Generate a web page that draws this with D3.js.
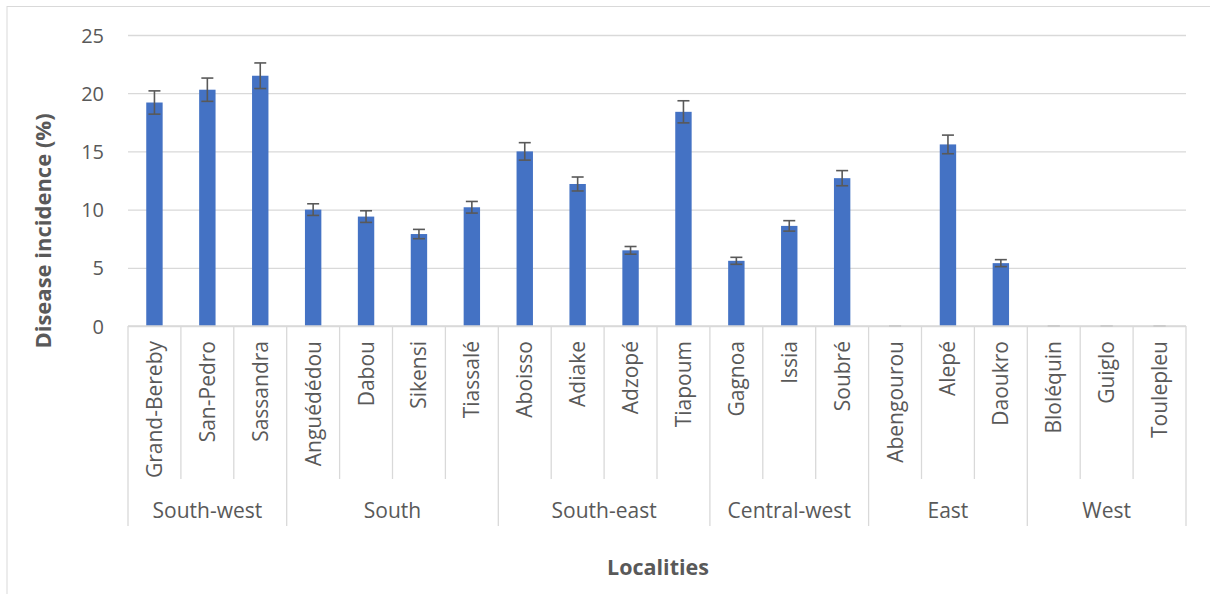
<!DOCTYPE html>
<html>
<head>
<meta charset="utf-8">
<script src="https://cdn.jsdelivr.net/npm/d3@7"></script>
<style>
  html, body { margin: 0; padding: 0; background: #fff; }
  svg { display: block; }
  text { font-family: "Open Sans", "Noto Sans", sans-serif; fill: #595959; }
</style>
</head>
<body>
<svg id="chart" width="1210" height="594"></svg>
<script>
const localities = ["Grand-Bereby","San-Pedro","Sassandra","Anguédédou","Dabou","Sikensi","Tiassalé","Aboisso","Adiake","Adzopé","Tiapoum","Gagnoa","Issia","Soubré","Abengourou","Alepé","Daoukro","Bloléquin","Guiglo","Toulepleu"];
const regions = ["South-west","South-west","South-west","South","South","South","South","South-east","South-east","South-east","South-east","Central-west","Central-west","Central-west","East","East","East","West","West","West"];
const incidence = [19.2, 20.3, 21.5, 10.0, 9.4, 7.9, 10.2, 15.0, 12.2, 6.5, 18.4, 5.6, 8.6, 12.7, 0, 15.6, 5.4, 0, 0, 0];
const errors = [1.0, 1.0, 1.1, 0.5, 0.5, 0.4, 0.5, 0.75, 0.6, 0.33, 0.95, 0.3, 0.45, 0.65, 0, 0.8, 0.3, 0, 0, 0];
const yTicks = [0, 5, 10, 15, 20, 25];

(function () {
const svg = d3.select("#chart");
const pLeft = 128, pRight = 1186, pTop = 35, pBottom = 326;

// outer chart border
svg.append("rect").attr("x", 7).attr("y", 6.5).attr("width", 1300).attr("height", 700)
  .attr("fill", "none").attr("stroke", "#D9D9D9").attr("stroke-width", 1);

const x = d3.scaleBand().domain(localities).range([pLeft, pRight]).paddingInner(0.69).paddingOuter(0.345);
const step = (pRight - pLeft) / localities.length;
const y = d3.scaleLinear().domain([0, 25]).range([pBottom, pTop]);

// gridlines
const yAxis = d3.axisLeft(y).tickValues(yTicks).tickSize(-(pRight - pLeft)).tickPadding(24).tickFormat(d3.format("d"));
const gy = svg.append("g").attr("transform", `translate(${pLeft},0)`).call(yAxis);
gy.select(".domain").remove();
gy.selectAll(".tick line").attr("stroke", "#D9D9D9").attr("stroke-width", 1.3);
gy.selectAll(".tick text").style("font-size", "20px").attr("fill", "#595959").attr("dy", "0.35em");

// bars
svg.append("g").selectAll("rect").data(localities).join("rect")
  .attr("x", d => x(d))
  .attr("width", x.bandwidth())
  .attr("y", (d, i) => y(incidence[i]))
  .attr("height", (d, i) => y(0) - y(incidence[i]))
  .attr("fill", "#4472C4");

// error bars
const eb = svg.append("g").attr("stroke-width", 1.6);
localities.forEach((d, i) => {
  const cx = x(d) + x.bandwidth() / 2;
  const hi = y(incidence[i] + errors[i]), lo = y(incidence[i] - errors[i]);
  const cw = 6;
  const col = incidence[i] === 0 ? "#A6A6A6" : "#595959";
  eb.append("line").attr("x1", cx).attr("x2", cx).attr("y1", hi).attr("y2", lo).attr("stroke", col);
  eb.append("line").attr("x1", cx - cw).attr("x2", cx + cw).attr("y1", hi).attr("y2", hi).attr("stroke", col);
  eb.append("line").attr("x1", cx - cw).attr("x2", cx + cw).attr("y1", lo).attr("y2", lo).attr("stroke", col);
});

// baseline axis
svg.append("line").attr("x1", pLeft).attr("x2", pRight).attr("y1", pBottom).attr("y2", pBottom)
  .attr("stroke", "#D9D9D9").attr("stroke-width", 1.5);

// category dividers
const ax = svg.append("g").attr("stroke", "#D9D9D9").attr("stroke-width", 1.3);
d3.range(localities.length + 1).forEach(k => {
  const bx = pLeft + k * step;
  const isGroup = k === 0 || k === localities.length || regions[k] !== regions[k - 1];
  ax.append("line").attr("x1", bx).attr("x2", bx).attr("y1", pBottom).attr("y2", isGroup ? 526 : 479);
});

// category labels
svg.append("g").selectAll("text").data(localities).join("text")
  .attr("transform", d => `translate(${x(d) + x.bandwidth() / 2 + 7.5},341) rotate(-90)`)
  .attr("text-anchor", "end")
  .style("font-size", "21px")
  .text(d => d);

// group labels
const groups = [];
regions.forEach((r, i) => {
  if (!groups.length || groups[groups.length - 1].name !== r) groups.push({ name: r, start: i, end: i });
  else groups[groups.length - 1].end = i;
});
svg.append("g").selectAll("text").data(groups).join("text")
  .attr("x", g => pLeft + (g.start + g.end + 1) / 2 * step)
  .attr("y", 518)
  .attr("text-anchor", "middle")
  .style("font-size", "21px")
  .text(g => g.name);

// axis titles
svg.append("text").attr("x", 658).attr("y", 575).attr("text-anchor", "middle")
  .style("font-size", "21.5px").style("font-weight", "bold").text("Localities");
svg.append("text").attr("transform", "translate(51,231) rotate(-90)").attr("text-anchor", "middle")
  .style("font-size", "22px").style("font-weight", "bold").text("Disease incidence (%)");
})();
</script>
</body>
</html>
